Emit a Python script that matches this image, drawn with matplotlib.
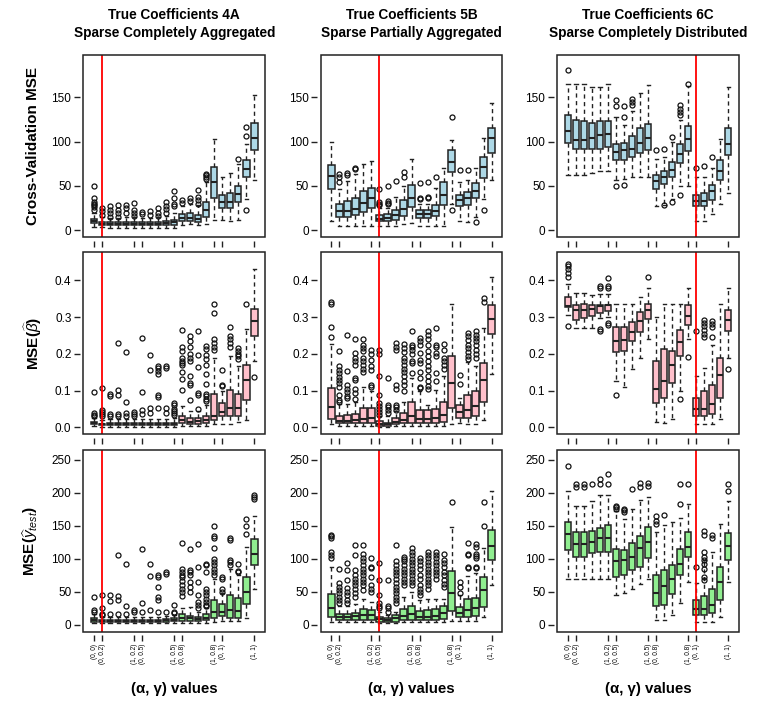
import matplotlib
matplotlib.use("Agg")
import matplotlib.pyplot as plt
from matplotlib.patches import Rectangle

# (alpha, gamma) grid: 21 settings, labelled only at the group edges
tick_pos = [1, 2, 6, 7, 11, 12, 16, 17, 21]
tick_labels = ["(0, 0)", "(0, 0.2)", "(1, 0.2)", "(0, 0.5)", "(1, 0.5)",
               "(0, 0.8)", "(1, 0.8)", "(0, 1)", "(1, 1)"]

col_titles = ["True Coefficients 4A\nSparse Completely Aggregated",
              "True Coefficients 5B\nSparse Partially Aggregated",
              "True Coefficients 6C\nSparse Completely Distributed"]
row_labels = ["Cross-Validation MSE", r"MSE($\widehat{\beta}$)", r"MSE($\widehat{y}_{test}$)"]
best_pos = [2, 7, 17]   # selected setting per column (red line)

# each box: (whisker low, q1, median, q3, whisker high)
cv_4a = [(4, 8, 10, 13, 20), (4, 6, 7.5, 9, 15), (3, 5.6, 7.5, 9.8, 14), (3, 5.6, 7.5, 9.8, 14),
         (3, 5.6, 7.5, 9.8, 15), (3, 5.6, 7.5, 9.8, 15), (3, 5.6, 7.5, 9.8, 14), (3, 5.6, 7.5, 9.8, 14),
         (3, 5.6, 7.5, 9.8, 15), (3, 5.8, 8, 10.5, 16), (3, 6, 9, 11.7, 20), (6, 10, 14, 18, 27),
         (7, 10, 14, 19, 30), (6, 9, 13, 17, 28), (7, 15, 23, 32, 55), (12, 36, 55, 71, 103),
         (12, 25, 32, 40, 60), (11, 25, 32, 42, 65), (12, 32, 41, 50, 75), (35, 60, 69, 79, 97),
         (57, 91, 104, 121, 153)]
cv_4a_out = [[50, 36, 32, 30, 28, 26, 23], [25, 22, 17], [27, 23, 19, 15], [28, 23, 19, 15],
             [29, 25, 19], [31, 23, 19, 16], [21, 18], [22, 17], [25, 19, 16], [32, 27, 24, 20],
             [44, 36, 30, 27], [34, 31], [36, 33], [45, 38, 34, 30], [64, 62, 60, 58],
             [], [], [], [81], [117, 107, 23], []]

cv_5b = [(11, 47, 61, 74, 100), (5, 15, 22, 30, 47), (5, 15, 22, 33, 56), (5, 17, 24, 36, 63),
         (5, 21, 31, 44, 75), (5, 25, 36, 48, 78), (5, 10, 13, 17, 25), (5, 11, 14, 18, 25),
         (5, 12, 17, 23, 38), (7, 16, 24, 34, 50), (8, 26, 36, 51, 81), (5, 14, 18, 23, 30),
         (5, 14, 18, 23, 30), (5, 16, 22, 29, 48), (5, 29, 40, 54, 70), (30, 66, 77, 91, 102),
         (10, 27, 34, 40, 55), (9, 28, 36, 43, 57), (15, 36, 44, 53, 70), (35, 59, 72, 83, 104),
         (57, 87, 104, 115, 144)]
cv_5b_out = [[], [63, 60, 55], [65, 62], [70, 69], [], [], [47, 32, 30, 28], [50, 33, 31, 30],
             [56], [66, 60], [], [53, 36, 35], [54, 38, 36], [60], [], [128, 23], [68], [68],
             [9], [23], []]

cv_6c = [(62, 98, 112, 130, 165), (62, 92, 102, 124, 165), (62, 92, 102, 123, 165),
         (65, 92, 104, 121, 162), (67, 92, 108, 123, 162), (67, 94, 109, 123, 165),
         (57, 79, 88, 97, 128), (58, 79, 91, 98, 119), (60, 83, 92, 106, 135),
         (60, 87, 98, 115, 155), (60, 91, 104, 120, 164), (27, 47, 56, 62, 81),
         (28, 52, 60, 67, 83), (35, 60, 68, 77, 100), (50, 76, 86, 97, 125),
         (50, 90, 103, 118, 163), (10, 27, 33, 40, 60), (10, 27, 33, 42, 60),
         (18, 34, 44, 51, 70), (30, 57, 67, 79, 103), (42, 85, 97, 116, 162)]
cv_6c_out = [[181], [], [], [], [], [], [140, 147, 50], [128, 140, 51], [141, 145, 148], [], [],
             [91], [92, 28], [105, 32], [130, 134, 137, 142, 40], [165], [70], [73], [83], [], []]

beta_4a = [(0.003, 0.009, 0.013, 0.016, 0.025), (0.002, 0.006, 0.008, 0.01, 0.02),
           (0.002, 0.006, 0.008, 0.011, 0.022), (0.002, 0.006, 0.008, 0.011, 0.022),
           (0.002, 0.006, 0.008, 0.011, 0.022), (0.002, 0.006, 0.008, 0.011, 0.022),
           (0.002, 0.006, 0.008, 0.011, 0.022), (0.002, 0.006, 0.008, 0.011, 0.022),
           (0.002, 0.006, 0.008, 0.011, 0.022), (0.002, 0.006, 0.009, 0.012, 0.024),
           (0.002, 0.007, 0.01, 0.013, 0.025), (0.005, 0.012, 0.02, 0.03, 0.059),
           (0.004, 0.01, 0.016, 0.025, 0.044), (0.004, 0.01, 0.017, 0.025, 0.045),
           (0.004, 0.012, 0.02, 0.03, 0.06), (0.01, 0.021, 0.03, 0.091, 0.19),
           (0.01, 0.03, 0.042, 0.066, 0.1), (0.01, 0.03, 0.053, 0.103, 0.194),
           (0.015, 0.03, 0.053, 0.091, 0.168), (0.02, 0.075, 0.13, 0.171, 0.268),
           (0.18, 0.248, 0.289, 0.323, 0.43)]
beta_4a_out = [[0.096, 0.039, 0.035, 0.03], [0.107, 0.048, 0.042, 0.036, 0.03],
               [0.092, 0.086, 0.037, 0.03], [0.23, 0.103, 0.087, 0.037, 0.03],
               [0.205, 0.068, 0.039, 0.032], [0.041, 0.036, 0.03],
               [0.244, 0.096, 0.048, 0.037], [0.196, 0.155, 0.053, 0.039],
               [0.168, 0.162, 0.153, 0.145, 0.087, 0.084, 0.053], [0.166, 0.162, 0.053, 0.039],
               [0.066, 0.06, 0.05, 0.045, 0.04, 0.035],
               [0.266, 0.219, 0.207, 0.189, 0.18, 0.175, 0.17, 0.15, 0.132, 0.103],
               [0.248, 0.235, 0.219, 0.2, 0.19, 0.18, 0.139, 0.121, 0.116, 0.075],
               [0.262, 0.198, 0.164, 0.094, 0.087, 0.05],
               [0.221, 0.212, 0.198, 0.185, 0.169, 0.144, 0.118, 0.092, 0.085, 0.078, 0.071],
               [0.337, 0.31, 0.24, 0.23, 0.22, 0.21], [0.157, 0.116, 0.112],
               [0.274, 0.248, 0.24, 0.23, 0.22], [0.216, 0.208, 0.2, 0.194, 0.187],
               [0.337], [0.137]]

beta_5b = [(0.01, 0.023, 0.055, 0.107, 0.228), (0.003, 0.011, 0.018, 0.032, 0.065),
           (0.003, 0.011, 0.018, 0.033, 0.065), (0.003, 0.012, 0.02, 0.037, 0.07),
           (0.004, 0.011, 0.022, 0.054, 0.11), (0.004, 0.013, 0.025, 0.052, 0.098),
           (0.002, 0.005, 0.01, 0.018, 0.03), (0.002, 0.004, 0.008, 0.012, 0.03),
           (0.003, 0.01, 0.016, 0.025, 0.045), (0.004, 0.011, 0.02, 0.038, 0.07),
           (0.004, 0.011, 0.03, 0.07, 0.134), (0.004, 0.011, 0.022, 0.047, 0.1),
           (0.004, 0.011, 0.022, 0.047, 0.06), (0.004, 0.012, 0.025, 0.05, 0.102),
           (0.005, 0.015, 0.035, 0.07, 0.14), (0.01, 0.052, 0.12, 0.194, 0.335),
           (0.012, 0.025, 0.043, 0.06, 0.081), (0.01, 0.026, 0.047, 0.087, 0.178),
           (0.01, 0.032, 0.057, 0.1, 0.166), (0.02, 0.07, 0.13, 0.175, 0.27),
           (0.145, 0.253, 0.295, 0.332, 0.41)]
beta_5b_out = [[0.34, 0.335, 0.272, 0.245],
               [0.207, 0.166, 0.155, 0.147, 0.138, 0.13, 0.12, 0.11, 0.088, 0.075, 0.07],
               [0.25, 0.154, 0.116, 0.105, 0.095, 0.085, 0.079],
               [0.24, 0.202, 0.19, 0.18, 0.17, 0.134, 0.13, 0.105, 0.093, 0.077],
               [0.24, 0.225, 0.215, 0.207, 0.19, 0.18, 0.17, 0.16, 0.152],
               [0.21, 0.2, 0.184, 0.166, 0.157, 0.116, 0.111],
               [0.21, 0.2, 0.14, 0.088, 0.066, 0.058, 0.05, 0.043, 0.034],
               [0.134, 0.06, 0.055, 0.048, 0.04],
               [0.23, 0.22, 0.21, 0.116, 0.104, 0.061, 0.055, 0.047],
               [0.227, 0.215, 0.205, 0.19, 0.18, 0.17, 0.16, 0.15, 0.14, 0.125, 0.115, 0.1],
               [0.263, 0.225, 0.218, 0.21, 0.2, 0.18, 0.175, 0.148],
               [0.243, 0.235, 0.225, 0.202, 0.184, 0.175, 0.152, 0.134, 0.111, 0.106],
               [0.263, 0.252, 0.24, 0.225, 0.207, 0.195, 0.18, 0.166, 0.155, 0.14, 0.125, 0.113, 0.105],
               [0.27, 0.225, 0.22, 0.202, 0.194, 0.148, 0.125],
               [0.227, 0.21, 0.19, 0.18, 0.17, 0.16],
               [], [0.143, 0.118],
               [0.257, 0.248, 0.238, 0.225, 0.215, 0.205, 0.195, 0.185],
               [0.263, 0.252, 0.243, 0.234, 0.225, 0.21, 0.2, 0.19],
               [0.353, 0.342], []]

beta_6c = [(0.307, 0.328, 0.33, 0.355, 0.39), (0.27, 0.293, 0.318, 0.334, 0.365),
           (0.27, 0.298, 0.318, 0.336, 0.365), (0.27, 0.302, 0.322, 0.334, 0.36),
           (0.298, 0.31, 0.331, 0.334, 0.364), (0.3, 0.316, 0.332, 0.334, 0.364),
           (0.125, 0.205, 0.236, 0.272, 0.335), (0.11, 0.207, 0.237, 0.272, 0.335),
           (0.16, 0.234, 0.26, 0.287, 0.335), (0.19, 0.26, 0.29, 0.314, 0.355),
           (0.24, 0.296, 0.319, 0.336, 0.38), (0.014, 0.066, 0.105, 0.18, 0.3),
           (0.012, 0.08, 0.125, 0.214, 0.335), (0.022, 0.122, 0.169, 0.209, 0.335),
           (0.1, 0.195, 0.232, 0.265, 0.335), (0.24, 0.278, 0.304, 0.332, 0.38),
           (0.008, 0.031, 0.049, 0.079, 0.139), (0.008, 0.03, 0.049, 0.098, 0.161),
           (0.008, 0.036, 0.064, 0.116, 0.223), (0.022, 0.08, 0.143, 0.19, 0.335),
           (0.19, 0.262, 0.293, 0.318, 0.38)]
beta_6c_out = [[0.445, 0.44, 0.43, 0.42, 0.41, 0.277], [], [], [], [0.385, 0.38, 0.268, 0.263],
               [0.405, 0.385, 0.378, 0.283, 0.278], [0.088], [], [], [], [0.41], [], [], [],
               [0.077], [0.192], [0.262], [0.293, 0.285, 0.275, 0.265, 0.255, 0.245],
               [0.289, 0.28, 0.272, 0.245], [], [0.16]]

ytest_4a = [(3, 5, 8, 11, 17), (3, 5, 6.5, 8, 12), (3, 5, 6.5, 8, 12), (3, 5, 6.5, 8, 12),
            (3, 5, 6.5, 8, 12), (3, 5, 6.5, 8, 12), (3, 5, 6.5, 8, 12), (3, 5, 6.5, 8, 12),
            (3, 5, 6.5, 8, 12), (3, 5, 7, 9, 13), (3, 5.5, 8, 10, 15), (3, 6, 10, 17, 26),
            (3, 6, 10, 14, 27), (3, 6, 9, 12, 20), (3, 7, 11, 16, 25), (4, 10, 19, 37, 70),
            (6, 13.6, 20, 32, 48), (6, 11, 23, 45.5, 85), (6, 11, 21, 41, 75),
            (10, 31, 49.5, 72.7, 118), (55, 91, 107, 130, 165)]
ytest_4a_out = [[43, 22, 20], [45, 26, 17, 15], [45, 36, 16], [44, 38, 16, 106], [92, 29, 16],
                [22, 20], [115, 33, 20], [92, 74, 22], [76, 72, 58, 42, 38, 20], [80, 77, 20],
                [30, 20, 18],
                [124, 84, 80, 76, 72, 66, 60, 55, 50, 44],
                [115, 83, 80, 75, 65, 58, 50],
                [122, 88, 65, 45, 35, 30, 25],
                [92, 90, 80, 55, 50, 45, 40, 35, 30, 28],
                [150, 134, 132, 117, 100, 95, 90, 85, 80, 75], [72, 70, 55, 50],
                [132, 129, 98, 95, 90], [92, 82, 80], [160, 150, 138], [196, 193, 190]]

ytest_5b = [(5, 12.6, 25, 46.5, 87), (4, 7.6, 12.6, 16.7, 28), (4, 7.6, 12.6, 16.7, 28),
            (4, 7.6, 13, 18.7, 31), (4, 7.6, 15, 23.7, 40), (4, 7.6, 15, 22.7, 35),
            (3, 5, 8.5, 12.6, 20), (3, 5, 8, 11, 15), (3, 5, 10, 15, 20),
            (4, 7.6, 13, 23.7, 43), (4, 7.6, 16, 29, 50), (4, 7.6, 12, 21.7, 38),
            (4, 7.6, 12.6, 22.7, 40), (4, 7.6, 13.6, 23.7, 40), (4, 9, 17.7, 29, 40),
            (6, 21, 49, 82.3, 148), (6, 12.6, 18.7, 27.8, 45), (6, 12.6, 22.7, 38.9, 74),
            (6, 13.6, 26, 41.4, 78), (12, 27.8, 53, 73, 117), (60, 98.5, 118.7, 143, 202)]
ytest_5b_out = [[136, 134, 131, 111, 106, 101],
                [84, 63, 58, 53, 48, 43, 38, 33],
                [93, 83, 68, 56, 50, 45, 38, 33],
                [121, 106, 83, 76, 70, 65, 60, 55, 48, 43],
                [121, 108, 101, 96, 90, 85, 80, 75, 70, 65, 60, 53],
                [101, 88, 86, 73, 60, 55, 50],
                [93, 68, 45, 33, 28, 25],
                [68, 28, 25, 20],
                [121, 96, 90, 85, 80, 75, 70, 63, 58, 53, 48, 43, 38, 33],
                [103, 100, 96, 90, 85, 80, 75, 70, 65, 60],
                [116, 111, 106, 100, 95, 90, 85, 80, 75, 70, 65, 60],
                [101, 96, 90, 85, 75, 70, 60, 55, 50, 45],
                [111, 106, 101, 95, 90, 85, 80, 75, 70, 65, 60, 55],
                [110, 106, 101, 95, 90, 85, 80, 75, 70],
                [108, 98, 93, 87, 80, 75, 68, 62, 58],
                [186], [65, 58, 48], [124, 108, 106, 88, 86], [122, 118, 108, 105, 101, 88, 86],
                [186, 150], []]

ytest_6c = [(70, 113.6, 137, 155.5, 202), (70, 103.5, 122.7, 140, 180), (70, 103.5, 122, 140, 180),
            (70, 108.6, 126, 142, 188), (70, 111, 131, 146.5, 197), (70, 111, 131, 150.5, 197),
            (45, 72, 96, 114.6, 172), (48, 75, 98.5, 113.6, 160), (55, 83, 103.5, 124, 176),
            (62, 88, 117, 134, 189), (70, 101, 125, 147.5, 193), (8, 28, 49, 76, 141),
            (8, 30, 59, 83, 151), (15, 47, 70, 90, 155), (33, 75, 91.5, 115, 161),
            (65, 102.5, 117.7, 140, 183), (5, 15, 23.7, 38, 63), (5, 15, 23.7, 44, 98),
            (5, 17.5, 30, 55, 110), (12, 38, 65, 87, 152), (65, 98.5, 119, 139, 188)]
ytest_6c_out = [[240], [208, 213], [208, 213], [213], [213, 220], [213, 229],
                [175, 178, 180], [171, 174, 176], [205], [208, 215], [210, 215],
                [152, 157, 165], [166], [], [183, 213], [213], [87],
                [142, 136, 110, 103, 98, 92, 85, 72, 68], [132, 136], [], [203, 213]]

panels = [[(cv_4a, cv_4a_out), (cv_5b, cv_5b_out), (cv_6c, cv_6c_out)],
          [(beta_4a, beta_4a_out), (beta_5b, beta_5b_out), (beta_6c, beta_6c_out)],
          [(ytest_4a, ytest_4a_out), (ytest_5b, ytest_5b_out), (ytest_6c, ytest_6c_out)]]
row_colors = ["#add8e6", "#ffc0cb", "#90ee90"]
row_ylims = [(-7.6, 198), (-0.018, 0.477), (-10.2, 265)]
row_yticks = [[0, 50, 100, 150], [0.0, 0.1, 0.2, 0.3, 0.4], [0, 50, 100, 150, 200, 250]]
row_yticklabels = [["0", "50", "100", "150"], ["0.0", "0.1", "0.2", "0.3", "0.4"],
                   ["0", "50", "100", "150", "200", "250"]]

plt.rcParams["font.family"] = ["Liberation Sans", "DejaVu Sans"]
plt.rcParams["mathtext.fontset"] = "custom"
plt.rcParams["mathtext.rm"] = "Liberation Sans"
plt.rcParams["mathtext.it"] = "Liberation Sans:italic"
plt.rcParams["mathtext.bf"] = "Liberation Sans:bold"

fig = plt.figure(figsize=(7.61, 7.03), dpi=100)
lefts = [0.1095, 0.4214, 0.7323]
bottoms = [0.6629, 0.3826, 0.1014]
w, h = 0.2388, 0.2589

for r in range(3):
    for c in range(3):
        ax = fig.add_axes([lefts[c], bottoms[r], w, h])
        # R-style detached axes: ticks sit a little outside the frame, no axis line
        for side in ["left", "bottom", "top", "right"]:
            ax.spines[side].set_visible(False)
        ax.spines["left"].set_position(("outward", 2.6))
        ax.spines["bottom"].set_position(("outward", 2.6))

        boxes, outs = panels[r][c]
        stats = []
        for (lo, q1, med, q3, hi), fl in zip(boxes, outs):
            stats.append(dict(whislo=lo, q1=q1, med=med, q3=q3, whishi=hi, fliers=fl))
        ax.bxp(stats, positions=range(1, 22), widths=0.8, capwidths=0.4,
               patch_artist=True, showfliers=True, manage_ticks=False,
               boxprops=dict(facecolor=row_colors[r], edgecolor="#222222", linewidth=1.1),
               medianprops=dict(color="#222222", linewidth=1.5),
               whiskerprops=dict(color="#222222", linewidth=1.0, linestyle=(0, (3, 2.5))),
               capprops=dict(color="#222222", linewidth=1.0),
               flierprops=dict(marker="o", markersize=3.6, markerfacecolor="none",
                               markeredgecolor="#111111", markeredgewidth=0.9))
        ax.axvline(best_pos[c], color="red", linewidth=1.3, zorder=5)
        ax.set_xlim(-0.34, 22.34)
        ax.set_ylim(*row_ylims[r])
        ax.set_yticks(row_yticks[r])
        ax.set_yticklabels(row_yticklabels[r])
        ax.set_xticks(tick_pos)
        ax.tick_params(direction="out", length=4, width=1.0, color="#222222", pad=2)
        ax.tick_params(axis="y", labelsize=8.5)
        if r == 2:
            ax.set_xticklabels(tick_labels)
            ax.tick_params(axis="x", labelrotation=90, labelsize=4.7)
            ax.set_xlabel("(α, γ) values", fontsize=10.8, fontweight="bold", labelpad=13)
        else:
            ax.set_xticklabels([])
        ax.add_patch(Rectangle((0, 0), 1, 1, transform=ax.transAxes, fill=False,
                               linewidth=1.1, edgecolor="#222222", clip_on=False, zorder=6))
        if c == 0:
            ax.set_ylabel(row_labels[r], fontsize=11, fontweight="bold", labelpad=8)
        if r == 0:
            ax.set_title(col_titles[c], fontsize=9.8, fontweight="bold", pad=13,
                         linespacing=1.35)

fig.savefig("out.png", dpi=100)
